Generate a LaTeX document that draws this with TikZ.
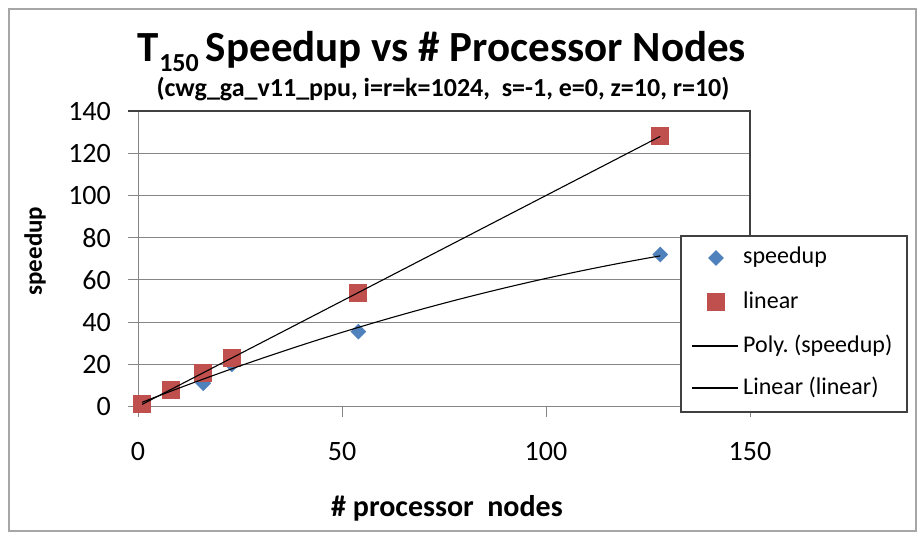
\documentclass[tikz,border=0pt]{standalone}
\usepackage{fontspec}
\setmainfont{Carlito}
\usetikzlibrary{shapes.geometric}
\definecolor{serblue}{HTML}{4F81BD}
\definecolor{serred}{HTML}{C0504D}
\definecolor{gridgray}{HTML}{868686}
\definecolor{darkframe}{HTML}{404040}
\definecolor{chartborder}{HTML}{A6A6A6}
\tikzset{
  gridline/.style={draw=gridgray, line width=1pt},
  frameline/.style={draw=darkframe, line width=1.3pt},
  dmark/.style={diamond, fill=serblue, inner sep=0pt, minimum width=16pt, minimum height=16pt},
  smark/.style={rectangle, fill=serred, inner sep=0pt, minimum size=18pt},
  trend/.style={draw=black, line width=1.1pt},
  ticklab/.style={font=\fontsize{28}{32}\selectfont, inner sep=0pt},
  legtext/.style={font=\fontsize{24}{28}\selectfont, anchor=base west, inner sep=0pt},
  axtitle/.style={font=\fontsize{25}{29}\selectfont\bfseries, inner sep=0pt}
}
\frenchspacing
\begin{document}
\begin{tikzpicture}[x=1pt,y=-1pt]
\useasboundingbox (0,0) rectangle (921,534);
\fill[white] (0,0) rectangle (921,534);
\draw[chartborder, line width=1.5pt] (9,9) rectangle (916,531);

% titles
\node[anchor=base, inner sep=0pt] (title) at (442,62)
  {\fontsize{43}{50}\selectfont\bfseries T\raisebox{-10pt}{\fontsize{26}{30}\selectfont 150}\,Speedup vs \# Processor Nodes};
\node[anchor=base, inner sep=0pt] (subtitle) at (443,97)
  {\fontsize{26}{30}\selectfont\bfseries (cwg\_ga\_v11\_ppu, i=r=k=1024,\ \ s=-1, e=0, z=10, r=10)};

% plot area
\begin{scope}[shift={(138,406.5)}, x=4.08pt, y=2.11pt]
  \foreach \v in {20,40,...,120} {
    \draw[gridline] (-2.45,\v) -- (150,\v);
  }
  \foreach \v in {0,20,...,140} {
    \node[ticklab, anchor=east] at (-6.6,\v) {\v};
  }
  \draw[gridline] (-2.45,0) -- (150,0);
  \draw[gridline] (0,0) -- (0,140);
  \foreach \u in {0,50,100,150} {
    \draw[gridline] (\u,0) -- (\u,-4.8);
    \node[ticklab] at (\u,-21.5) {\u};
  }
  \draw[frameline] (-2.45,140) -- (150,140) -- (150,0);

  % data markers
  \node[dmark] (sp1) at (1,1) {};
  \node[dmark] (sp2) at (8,7.5) {};
  \node[dmark] (sp3) at (16,11) {};
  \node[dmark] (sp4) at (23,20) {};
  \node[dmark] (sp5) at (54,35.5) {};
  \node[dmark] (sp6) at (128,72) {};
  \node[smark] (ln1) at (1,1) {};
  \node[smark] (ln2) at (8,8) {};
  \node[smark] (ln3) at (16,16) {};
  \node[smark] (ln4) at (23,23) {};
  \node[smark] (ln5) at (54,54) {};
  \node[smark] (ln6) at (128,128) {};

  % trend lines
  \draw[trend] (ln1.center) -- (ln6.center);
  \draw[trend] plot[domain=1:128, samples=60, smooth] (\x, {-0.001657*\x*\x+0.7609*\x+1.241});
\end{scope}

% axis titles
\node[axtitle, rotate=90] (ytitle) at (35,251) {speedup};
\node[axtitle, font=\fontsize{30}{34}\selectfont\bfseries] (xtitle) at (447,508) {\# processor\ \ nodes};

% legend
\draw[draw=darkframe, line width=1.3pt, fill=white] (681,236) rectangle (907,412);
\node[dmark] (legd) at (716,258) {};
\node[smark] (legs) at (716,302) {};
\coordinate (lp1) at (692,346);
\coordinate (lp2) at (738,346);
\coordinate (ll1) at (692,388);
\coordinate (ll2) at (738,388);
\draw[trend] (lp1) -- (lp2);
\draw[trend] (ll1) -- (ll2);
\node[legtext] (t1) at (743,264) {speedup};
\node[legtext] (t2) at (743,309) {linear};
\node[legtext] (t3) at (743,353) {Poly. (speedup)};
\node[legtext] (t4) at (743,395) {Linear (linear)};
\end{tikzpicture}
\end{document}
